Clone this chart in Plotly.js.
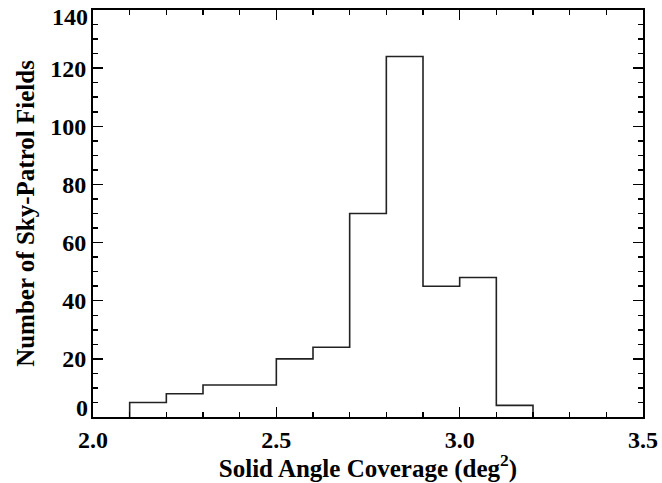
<!DOCTYPE html>
<html>
<head>
<meta charset="utf-8">
<script src="https://cdn.plot.ly/plotly-3.0.1.min.js"></script>
<style>html,body{margin:0;padding:0;background:#fff}#chart{width:662px;height:483px}</style>
</head>
<body>
<div id="chart"></div>
<script>
// Histogram bins (deg^2) and counts of sky-patrol fields
const binEdges = [2.1, 2.2, 2.3, 2.4, 2.5, 2.6, 2.7, 2.8, 2.9, 3.0, 3.1, 3.2];
const counts   = [5, 8, 11, 11, 20, 24, 70, 124, 45, 48, 4];
const yTickVals = [20, 40, 60, 80, 100, 120];
const yEndLabels = ['0', '140'];
const xTickVals = [2.0, 2.5, 3.0, 3.5];
const xTickText = ['2.0', '2.5', '3.0', '3.5'];

// step outline built from the bins
const sx = [binEdges[0]].concat(binEdges);
const sy = [0].concat(counts, [counts[counts.length - 1]]);
sx.push(binEdges[binEdges.length - 1]);
sy.push(0);

const fontFam = '"Liberation Serif", "Times New Roman", serif';
const FS = 24;
const TFS = 25;

const trace = {
  x: sx, y: sy, type: 'scatter', mode: 'lines',
  line: {shape: 'hv', color: '#222', width: 1.6},
  hoverinfo: 'skip', showlegend: false, cliponaxis: false
};

const layout = {
  width: 662, height: 483,
  margin: {l: 93, r: 19, t: 10, b: 66},
  paper_bgcolor: '#fff', plot_bgcolor: '#fff',
  font: {family: fontFam, color: '#000', size: FS},
  xaxis: {
    range: [2.0, 3.5], tickvals: xTickVals, ticktext: xTickText,
    ticks: 'inside', ticklen: 10, tickwidth: 1.5, tickcolor: '#000',
    minor: {dtick: 0.1, ticks: 'inside', ticklen: 5, tickwidth: 1.5, tickcolor: '#000', showgrid: false},
    showline: true, linewidth: 2, linecolor: '#000', mirror: 'ticks',
    showgrid: false, zeroline: false,
    tickfont: {family: fontFam, size: FS, weight: 'bold'},
    title: {text: '<b>Solid Angle Coverage (deg<sup>2</sup>)</b>', font: {family: fontFam, size: TFS}, standoff: 0}
  },
  yaxis: {
    range: [0, 140], tickvals: yTickVals,
    ticks: 'inside', ticklen: 10, tickwidth: 1.5, tickcolor: '#000',
    minor: {dtick: 5, ticks: 'inside', ticklen: 5, tickwidth: 1.5, tickcolor: '#000', showgrid: false},
    showline: true, linewidth: 2, linecolor: '#000', mirror: 'ticks',
    showgrid: false, zeroline: false,
    tickfont: {family: fontFam, size: FS, weight: 'bold'},
    title: {text: '<b>Number of Sky-Patrol Fields</b>', font: {family: fontFam, size: TFS}, standoff: 8}
  },
  annotations: [
    {text: '<b>' + yEndLabels[0] + '</b>', xref: 'paper', yref: 'y', x: 0, y: 3, xanchor: 'right', yanchor: 'middle', xshift: -3, showarrow: false, font: {family: fontFam, size: FS}},
    {text: '<b>' + yEndLabels[1] + '</b>', xref: 'paper', yref: 'y', x: 0, y: 137.5, xanchor: 'right', yanchor: 'middle', xshift: -3, showarrow: false, font: {family: fontFam, size: FS}}
  ]
};

Plotly.newPlot('chart', [trace], layout, {staticPlot: true, displayModeBar: false});
</script>
</body>
</html>
